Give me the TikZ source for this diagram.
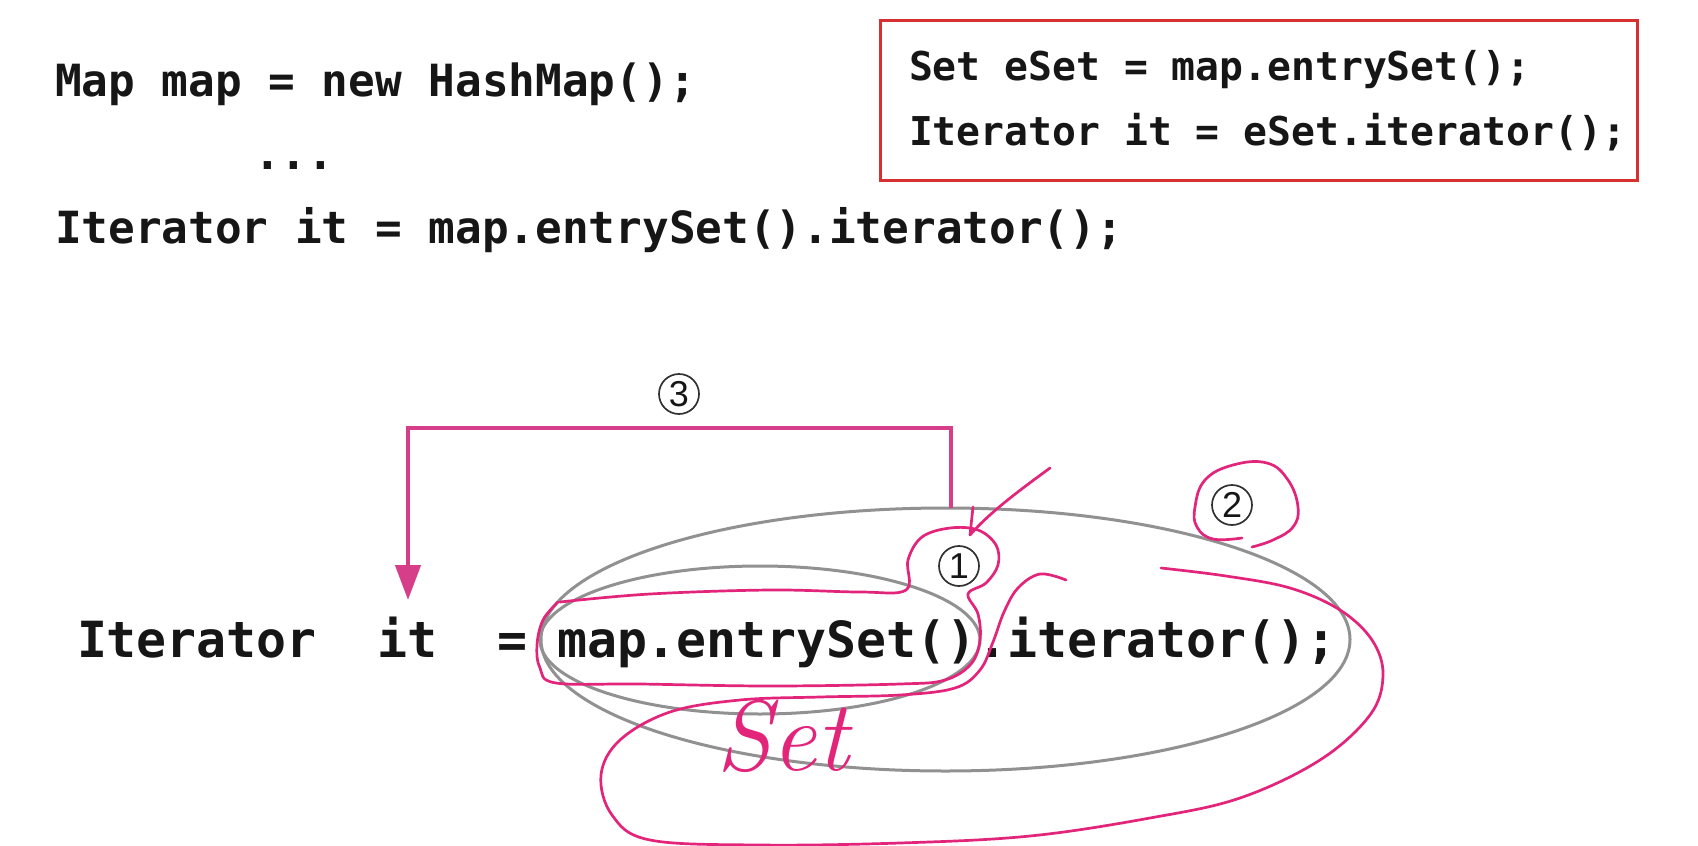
\documentclass[tikz,border=0pt]{standalone}
\usepackage{fontspec}
\newfontfamily\codefont{DejaVu Sans Mono}
\newfontfamily\numfont{Liberation Sans}
\usetikzlibrary{shapes.geometric,arrows.meta}
\definecolor{boxred}{RGB}{214,48,49}
\definecolor{arrowpink}{RGB}{214,62,138}
\definecolor{handpink}{RGB}{226,36,122}
\definecolor{ellgray}{RGB}{145,145,145}
\definecolor{ink}{RGB}{22,22,22}
\definecolor{numgray}{RGB}{50,50,50}
\begin{document}
\begin{tikzpicture}[x=1pt,y=-1pt,
  code/.style={anchor=base west, inner sep=0pt, outer sep=0pt, text=ink, font=\codefont\bfseries\fontsize{44.35}{50}\selectfont},
  boxcode/.style={code, font=\codefont\bfseries\fontsize{39.7}{45}\selectfont},
  bigcode/.style={code, font=\codefont\bfseries\fontsize{49.83}{56}\selectfont},
  numcirc/.style={circle, draw=numgray, line width=1.7pt, minimum size=40pt, inner sep=0pt, text=ink, font=\numfont\fontsize{36}{36}\selectfont},
  ringell/.style={ellipse, draw=ellgray, line width=3pt, inner sep=0pt},
  handstroke/.style={draw=handpink, line width=2.7pt, line cap=round, line join=round},
  arrowthree/.style={draw=arrowpink, line width=4.5pt, -{Triangle[width=25pt,length=35pt]}},
  redbox/.style={draw=boxred, line width=3pt, inner sep=0pt}
]
\fill[white] (0,0) rectangle (1698,846);
\useasboundingbox (0,0) rectangle (1698,846);

% top code
\node[code] (l1) at (55,96.7) {Map map = new HashMap();};
\node[code] (dots) at (254,169) {...};
\node[code] (l3) at (55,243.5) {Iterator it = map.entrySet().iterator();};

% red box
\node[redbox, minimum width=757pt, minimum height=160pt] (box) at (1258.5,100) {};
\node[boxcode] (b1) at (909,80) {Set eSet = map.entrySet();};
\node[boxcode] (b2) at (909,145) {Iterator it = eSet.iterator();};

% ellipses
\node[ringell, minimum width=809pt, minimum height=263pt] (big) at (945.5,639.5) {};
\node[ringell, minimum width=440pt, minimum height=148pt] (inner) at (760,640) {};

% bottom code
\node[bigcode] (wIter) at (77,657) {Iterator};
\node[bigcode] (wit) at (377,657) {it};
\node[bigcode] (weq) at (497,657) {=};
\node[bigcode] (wmap) at (557,657) {map.entrySet()};
\node[bigcode] (witer) at (977,657) {.iterator();};

% circled numbers
\node[numcirc] (c3) at (679,394) {3};
\node[numcirc] (c1) at (959,566) {1};
\node[numcirc] (c2) at (1232,505) {2};

% arrow 3
\coordinate (bigtop) at (951,508);
\coordinate (corner) at (408,428);
\coordinate (ittip) at (408,600);
\draw[arrowthree] (bigtop) |- (corner) -- (ittip);

% hand-drawn arrow to 1
\coordinate (aones) at (1050,468);
\coordinate (aonet) at (970,535);
\coordinate (aoneb) at (973,507);
\draw[handstroke] (aones) .. controls (1020,490) and (990,512) .. (aonet);
\draw[handstroke] (aoneb) -- (aonet);

% loop around 2
\draw[handstroke] plot[smooth, tension=0.7] coordinates {(1242,538) (1213,539) (1197,527) (1195,507) (1205,480) (1233,465) (1267,463) (1288,480) (1298,507) (1293,527) (1273,540) (1252,547)};

% lasso around map.entrySet() and 1
\draw[handstroke] plot[smooth, tension=0.6] coordinates {(560,602) (650,594) (770,590) (860,592) (906,590) (908,560) (922,537) (950,528) (978,530) (996,545) (998,565) (986,583) (968,594) (978,614) (980,640) (971,664) (945,680) (900,684) (770,686) (640,684) (556,683) (540,668) (537,645) (543,620) (558,602)};

% big loop
\draw[handstroke] plot[smooth, tension=0.6] coordinates {(1066,580) (1040,574) (1018,588) (1004,612) (993,642) (980,670) (955,688) (900,695) (820,697) (740,700) (670,712) (620,740) (601,775) (612,815) (650,840) (760,845) (900,843) (1030,836) (1150,818) (1240,798) (1320,760) (1370,715) (1383,675) (1372,640) (1340,610) (1290,588) (1226,576) (1161,568)};

% handwritten Set
\node[anchor=base west, inner sep=0pt, text=handpink, font=\itshape\fontsize{100}{100}\selectfont] (setword) at (716,770) {Set};
\end{tikzpicture}
\end{document}
